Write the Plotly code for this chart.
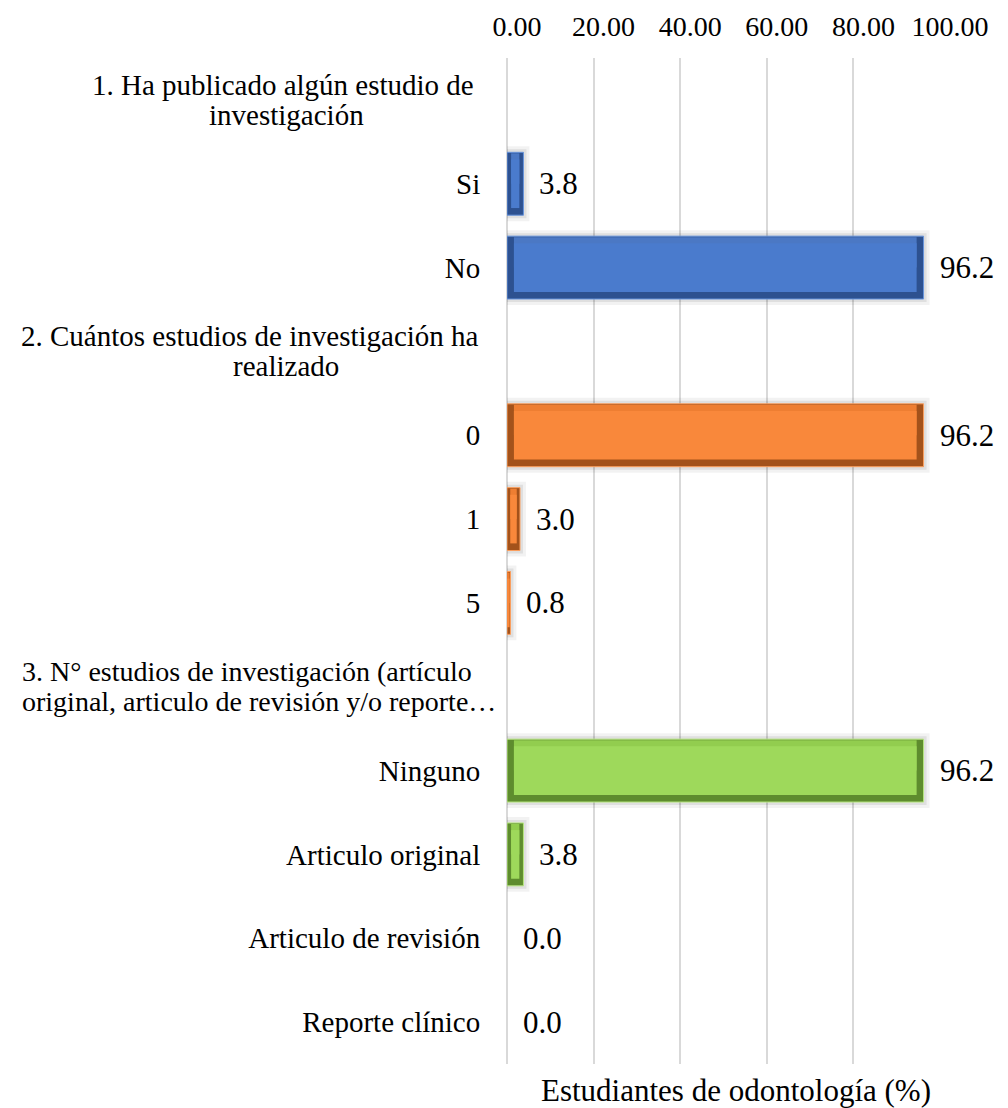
import plotly.graph_objects as go

# Survey questions (section headers) and their answers
header_1 = "1. Ha publicado algún estudio de investigación"
header_2 = "2. Cuántos estudios de investigación ha realizado"
header_3 = "3. N° estudios de investigación (artículo original, articulo de revisión y/o reporte clínico)"

q1_labels = ["Si", "No"]
q1_values = [3.8, 96.2]

q2_labels = ["0", "1", "5"]
q2_values = [96.2, 3.0, 0.8]

q3_labels = ["Ninguno", "Articulo original", "Articulo de revisión", "Reporte clínico"]
q3_values = [96.2, 3.8, 0.0, 0.0]

x_ticks = [0, 20, 40, 60, 80, 100]
x_title = "Estudiantes de odontología (%)"

# Wrapped header lines as shown on the axis
header_lines = {
    header_1: ["1. Ha publicado algún estudio de", "investigación"],
    header_2: ["2. Cuántos estudios de investigación ha", "realizado"],
    header_3: ["3. N° estudios de investigación (artículo", "original, articulo de revisión y/o reporte…"],
}

category_order = ([header_1] + q1_labels + [header_2] + q2_labels + [header_3] + q3_labels)
tick_text = ["" if c in header_lines else c for c in category_order]
row_of = {c: i for i, c in enumerate(category_order)}

FONT = "Liberation Serif"

groups = [
    (q1_labels, q1_values, dict(face="#4A7BCD", upper="#4B78C4", dark="#2D5190", edge="#6794DC")),
    (q2_labels, q2_values, dict(face="#F9883B", upper="#EE7E32", dark="#A3521B", edge="#FB9F5E")),
    (q3_labels, q3_values, dict(face="#9ED95B", upper="#92CD4F", dark="#5E8C2E", edge="#B6E67E")),
]

BAR_W = 0.75
INSET = 1.6            # bevel depth along the value axis (data units)
INNER_W = 0.58         # face height of the bevelled bar (category units)


def bevel(v):
    # thin bars get a proportionally thinner bevel
    return min(INSET, v / 4)


fig = go.Figure()

for labels, values, col in groups:
    ys = [row_of[l] for l in labels]
    has_bar = [v > 0 for v in values]
    insets = [bevel(v) for v in values]
    # soft drop shadow
    for lw, alpha in [(12, 0.05), (6, 0.08)]:
        fig.add_trace(go.Bar(
            y=ys, x=values, orientation="h", width=BAR_W,
            marker=dict(color="rgba(0,0,0,0)",
                        line=dict(color=f"rgba(0,0,0,{alpha})", width=[lw if h else 0 for h in has_bar])),
            hoverinfo="skip", showlegend=False,
        ))
    # dark bevel frame (left, bottom and right sides)
    fig.add_trace(go.Bar(
        y=ys, x=values, orientation="h", width=BAR_W,
        marker=dict(color=col["dark"],
                    line=dict(color=col["edge"], width=[1 if h else 0 for h in has_bar])),
        showlegend=False,
    ))
    # lit top side of the bevel
    fig.add_trace(go.Bar(
        y=ys, x=[v - 2 * d for v, d in zip(values, insets)], base=insets,
        orientation="h", width=BAR_W / 2 - 0.012, offset=-BAR_W / 2 + 0.012,
        marker=dict(color=col["upper"], line=dict(width=0)),
        hoverinfo="skip", showlegend=False,
    ))
    # inner face
    fig.add_trace(go.Bar(
        y=ys, x=[v - 2 * d for v, d in zip(values, insets)], base=insets,
        orientation="h", width=INNER_W,
        marker=dict(color=col["face"], line=dict(width=0)),
        hoverinfo="skip", showlegend=False,
    ))

annotations = []
# value labels
for labels, values, _ in groups:
    for lab, v in zip(labels, values):
        annotations.append(dict(
            x=v, y=row_of[lab], xref="x", yref="y", text=f"{v:.1f}", showarrow=False,
            xanchor="left", xshift=14, font=dict(family=FONT, size=31, color="#000000"),
        ))

# wrapped section headers: (anchor, shift from plot edge, font size)
header_pos = {
    header_1: [("right", -31, 29), ("center", -221, 29)],
    header_2: [("right", -26, 29), ("center", -221, 29)],
    header_3: [("left", -487, 28), ("left", -487, 28)],
}
for h, lines in header_lines.items():
    for i, line in enumerate(lines):
        anchor, shift, size = header_pos[h][i]
        annotations.append(dict(
            x=0, y=row_of[h], xref="paper", yref="y", text=line, showarrow=False,
            xanchor=anchor, xshift=shift, yshift=15 if i == 0 else -15,
            font=dict(family=FONT, size=size, color="#000000"),
        ))

# value-axis title at the bottom
annotations.append(dict(
    x=0.5, y=0, xref="paper", yref="paper", text=x_title, showarrow=False,
    xanchor="center", yanchor="middle", xshift=12, yshift=-26,
    font=dict(family=FONT, size=31, color="#000000"),
))

fig.update_layout(
    width=1008, height=1108,
    margin=dict(l=507, r=68, t=58, b=44),
    paper_bgcolor="#FFFFFF", plot_bgcolor="#FFFFFF",
    barmode="overlay",
    font=dict(family=FONT, size=28, color="#000000"),
    annotations=annotations,
    xaxis=dict(
        side="top", range=[0, 100], tickvals=x_ticks,
        tickformat=".2f", ticks="outside", ticklen=10, tickcolor="rgba(0,0,0,0)",
        ticklabelshift=10,
        showgrid=True, gridcolor="#D9D9D9", gridwidth=1.5,
        zeroline=True, zerolinecolor="#D9D9D9", zerolinewidth=1.5,
        showline=False, fixedrange=True,
        tickfont=dict(family=FONT, size=28, color="#000000"),
    ),
    yaxis=dict(
        range=[len(category_order) - 0.5, -0.5],
        tickvals=list(range(len(category_order))), ticktext=tick_text,
        ticks="outside", ticklen=20, tickcolor="rgba(0,0,0,0)",
        showgrid=False, zeroline=False, showline=False, fixedrange=True,
        tickfont=dict(family=FONT, size=29, color="#000000"),
    ),
)

fig.write_html("out.html")
